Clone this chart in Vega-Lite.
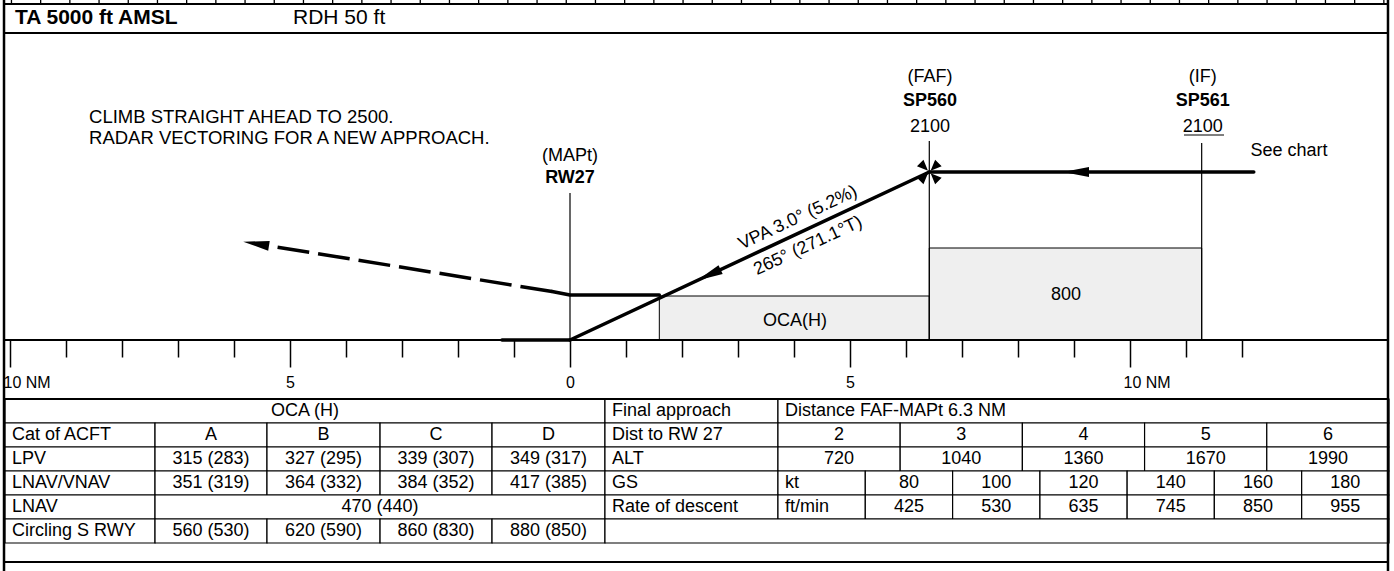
{
  "$schema": "https://vega.github.io/schema/vega-lite/v6.json",
  "width": 1394,
  "height": 571,
  "padding": 0,
  "autosize": {"type": "none"},
  "background": "white",
  "config": {"view": {"stroke": null}, "font": "Liberation Sans", "axis": {"labelColor": "black", "tickColor": "black"}},
  "datasets": {
    "cells": [
      {"id": 1, "r": "r0", "x0": 0, "x1": 43.35, "label": "OCA (H)", "kind": "value"},
      {"id": 2, "r": "r0", "x0": 43.35, "x1": 55.85, "label": "Final approach", "kind": "label"},
      {"id": 3, "r": "r0", "x0": 55.85, "x1": 100, "label": "Distance FAF-MAPt 6.3 NM", "kind": "label"},
      {"id": 4, "r": "r1", "x0": 0, "x1": 10.84, "label": "Cat of ACFT", "kind": "label"},
      {"id": 5, "r": "r1", "x0": 10.84, "x1": 18.93, "label": "A", "kind": "value"},
      {"id": 6, "r": "r1", "x0": 18.93, "x1": 27.1, "label": "B", "kind": "value"},
      {"id": 7, "r": "r1", "x0": 27.1, "x1": 35.19, "label": "C", "kind": "value"},
      {"id": 8, "r": "r1", "x0": 35.19, "x1": 43.35, "label": "D", "kind": "value"},
      {"id": 9, "r": "r1", "x0": 43.35, "x1": 55.85, "label": "Dist to RW 27", "kind": "label"},
      {"id": 10, "r": "r1", "x0": 55.85, "x1": 64.68, "label": "2", "kind": "value"},
      {"id": 11, "r": "r1", "x0": 64.68, "x1": 73.51, "label": "3", "kind": "value"},
      {"id": 12, "r": "r1", "x0": 73.51, "x1": 82.34, "label": "4", "kind": "value"},
      {"id": 13, "r": "r1", "x0": 82.34, "x1": 91.17, "label": "5", "kind": "value"},
      {"id": 14, "r": "r1", "x0": 91.17, "x1": 100, "label": "6", "kind": "value"},
      {"id": 15, "r": "r2", "x0": 0, "x1": 10.84, "label": "LPV", "kind": "label"},
      {"id": 16, "r": "r2", "x0": 10.84, "x1": 18.93, "label": "315 (283)", "kind": "value"},
      {"id": 17, "r": "r2", "x0": 18.93, "x1": 27.1, "label": "327 (295)", "kind": "value"},
      {"id": 18, "r": "r2", "x0": 27.1, "x1": 35.19, "label": "339 (307)", "kind": "value"},
      {"id": 19, "r": "r2", "x0": 35.19, "x1": 43.35, "label": "349 (317)", "kind": "value"},
      {"id": 20, "r": "r2", "x0": 43.35, "x1": 55.85, "label": "ALT", "kind": "label"},
      {"id": 21, "r": "r2", "x0": 55.85, "x1": 64.68, "label": "720", "kind": "value"},
      {"id": 22, "r": "r2", "x0": 64.68, "x1": 73.51, "label": "1040", "kind": "value"},
      {"id": 23, "r": "r2", "x0": 73.51, "x1": 82.34, "label": "1360", "kind": "value"},
      {"id": 24, "r": "r2", "x0": 82.34, "x1": 91.17, "label": "1670", "kind": "value"},
      {"id": 25, "r": "r2", "x0": 91.17, "x1": 100, "label": "1990", "kind": "value"},
      {"id": 26, "r": "r3", "x0": 0, "x1": 10.84, "label": "LNAV/VNAV", "kind": "label"},
      {"id": 27, "r": "r3", "x0": 10.84, "x1": 18.93, "label": "351 (319)", "kind": "value"},
      {"id": 28, "r": "r3", "x0": 18.93, "x1": 27.1, "label": "364 (332)", "kind": "value"},
      {"id": 29, "r": "r3", "x0": 27.1, "x1": 35.19, "label": "384 (352)", "kind": "value"},
      {"id": 30, "r": "r3", "x0": 35.19, "x1": 43.35, "label": "417 (385)", "kind": "value"},
      {"id": 31, "r": "r3", "x0": 43.35, "x1": 55.85, "label": "GS", "kind": "label"},
      {"id": 32, "r": "r3", "x0": 55.85, "x1": 62.16, "label": "kt", "kind": "label"},
      {"id": 33, "r": "r3", "x0": 62.16, "x1": 68.47, "label": "80", "kind": "value"},
      {"id": 34, "r": "r3", "x0": 68.47, "x1": 74.78, "label": "100", "kind": "value"},
      {"id": 35, "r": "r3", "x0": 74.78, "x1": 81.08, "label": "120", "kind": "value"},
      {"id": 36, "r": "r3", "x0": 81.08, "x1": 87.38, "label": "140", "kind": "value"},
      {"id": 37, "r": "r3", "x0": 87.38, "x1": 93.69, "label": "160", "kind": "value"},
      {"id": 38, "r": "r3", "x0": 93.69, "x1": 100, "label": "180", "kind": "value"},
      {"id": 39, "r": "r4", "x0": 0, "x1": 10.84, "label": "LNAV", "kind": "label"},
      {"id": 40, "r": "r4", "x0": 10.84, "x1": 43.35, "label": "470 (440)", "kind": "value"},
      {"id": 41, "r": "r4", "x0": 43.35, "x1": 55.85, "label": "Rate of descent", "kind": "label"},
      {"id": 42, "r": "r4", "x0": 55.85, "x1": 62.16, "label": "ft/min", "kind": "label"},
      {"id": 43, "r": "r4", "x0": 62.16, "x1": 68.47, "label": "425", "kind": "value"},
      {"id": 44, "r": "r4", "x0": 68.47, "x1": 74.78, "label": "530", "kind": "value"},
      {"id": 45, "r": "r4", "x0": 74.78, "x1": 81.08, "label": "635", "kind": "value"},
      {"id": 46, "r": "r4", "x0": 81.08, "x1": 87.38, "label": "745", "kind": "value"},
      {"id": 47, "r": "r4", "x0": 87.38, "x1": 93.69, "label": "850", "kind": "value"},
      {"id": 48, "r": "r4", "x0": 93.69, "x1": 100, "label": "955", "kind": "value"},
      {"id": 49, "r": "r5", "x0": 0, "x1": 10.84, "label": "Circling S RWY", "kind": "label"},
      {"id": 50, "r": "r5", "x0": 10.84, "x1": 18.93, "label": "560 (530)", "kind": "value"},
      {"id": 51, "r": "r5", "x0": 18.93, "x1": 27.1, "label": "620 (590)", "kind": "value"},
      {"id": 52, "r": "r5", "x0": 27.1, "x1": 35.19, "label": "860 (830)", "kind": "value"},
      {"id": 53, "r": "r5", "x0": 35.19, "x1": 43.35, "label": "880 (850)", "kind": "value"},
      {"id": 54, "r": "r5", "x0": 43.35, "x1": 100, "label": "", "kind": "empty"}
    ],
    "fixlines": [
      {"fix": "MAPt", "d": 0, "ft": 0, "ft2": 1837.5},
      {"fix": "FAF", "d": 6.416, "ft": 0, "ft2": 2487.5},
      {"fix": "IF", "d": 11.28, "ft": 0, "ft2": 2462.5}
    ],
    "boxes": [
      {"area": "OCA(H)", "d": 1.595, "d2": 6.416, "ft": 0, "ft2": 550},
      {"area": "800", "d": 6.416, "d2": 11.28, "ft": 0, "ft2": 1150}
    ],
    "paths": [
      {"seg": "runway", "i": 0, "d": -1.214, "ft": 0},
      {"seg": "runway", "i": 1, "d": 0, "ft": 0},
      {"seg": "final", "i": 0, "d": 0, "ft": 0},
      {"seg": "final", "i": 1, "d": 6.416, "ft": 2100},
      {"seg": "intermediate", "i": 0, "d": 6.416, "ft": 2100},
      {"seg": "intermediate", "i": 1, "d": 12.21, "ft": 2100},
      {"seg": "missed", "i": 0, "d": 1.595, "ft": 562.5},
      {"seg": "missed", "i": 1, "d": 0, "ft": 562.5},
      {"seg": "missed", "i": 2, "d": -0.321, "ft": 606}
    ],
    "dashed": [
      {"seg": "missed-climb", "i": 0, "d": -0.321, "ft": 606},
      {"seg": "missed-climb", "i": 1, "d": -5.375, "ft": 1177.5}
    ],
    "arrows": [
      {"seg": "final", "d": 2.479, "ft": 811},
      {"seg": "intermediate", "d": 9.036, "ft": 2100},
      {"seg": "missed-climb", "d": -5.605, "ft": 1203}
    ],
    "fixes": [{"fix": "FAF", "d": 6.416, "ft": 2100}],
    "underline": [{"fix": "IF", "d": 10.964, "d2": 11.679, "ft": 2562.5}],
    "hlines": [
      {"edge": "top", "d": -10.107, "d2": 14.607, "ft": 4200},
      {"edge": "header", "d": -10.107, "d2": 14.607, "ft": 3837.5},
      {"edge": "profile", "d": -10.107, "d2": 14.607, "ft": 0},
      {"edge": "table", "d": -10.107, "d2": 14.607, "ft": -737.5},
      {"edge": "bottom", "d": -10.107, "d2": 14.607, "ft": -2775}
    ],
    "vlines": [
      {"edge": "left", "d": -10.107, "ft": 4250, "ft2": -2887.5},
      {"edge": "right", "d": 14.607, "ft": 4250, "ft2": -2887.5}
    ],
    "strip": [{"edge": "ruler", "d": -10.107, "d2": 14.607, "ft": 4231}],
    "labels": [
      {"text": "TA 5000 ft AMSL", "role": "title", "d": -9.911, "ft": 4025},
      {"text": "RDH 50 ft", "role": "subtitle", "d": -4.946, "ft": 4025},
      {"text": "CLIMB STRAIGHT AHEAD TO 2500.", "role": "instruction", "d": -8.589, "ft": 2787.5},
      {"text": "RADAR VECTORING FOR A NEW APPROACH.", "role": "instruction", "d": -8.589, "ft": 2525},
      {"text": "(MAPt)", "role": "fixtype", "d": 0, "ft": 2300},
      {"text": "RW27", "role": "fixname", "d": 0, "ft": 2025},
      {"text": "(FAF)", "role": "fixtype", "d": 6.43, "ft": 3287.5},
      {"text": "SP560", "role": "fixname", "d": 6.43, "ft": 2987.5},
      {"text": "2100", "role": "altitude", "d": 6.43, "ft": 2662.5},
      {"text": "(IF)", "role": "fixtype", "d": 11.3, "ft": 3287.5},
      {"text": "SP561", "role": "fixname", "d": 11.3, "ft": 2987.5},
      {"text": "2100", "role": "altitude", "d": 11.3, "ft": 2662.5},
      {"text": "See chart", "role": "note", "d": 12.84, "ft": 2362.5},
      {"text": "OCA(H)", "role": "area", "d": 4.018, "ft": 237.5},
      {"text": "800", "role": "area", "d": 8.857, "ft": 562.5},
      {"text": "VPA 3.0° (5.2%)", "role": "path", "d": 4.071, "ft": 1525},
      {"text": "265° (271.1°T)", "role": "path", "d": 4.25, "ft": 1175}
    ]
  },
  "layer": [
    {
      "data": {"name": "cells"},
      "encoding": {
        "x": {"field": "x0", "type": "quantitative", "scale": {"domain": [-0.3613, 100.3613], "nice": false, "zero": false}, "axis": null},
        "y": {"field": "r", "type": "nominal", "scale": {"type": "band", "domain": ["r0", "r1", "r2", "r3", "r4", "r5"], "range": [399, 543], "paddingInner": 0, "paddingOuter": 0}, "axis": null}
      },
      "layer": [
        {"mark": {"type": "rect", "fill": "white", "stroke": "black", "strokeWidth": 1.2}, "encoding": {"x2": {"field": "x1"}}},
        {
          "transform": [{"filter": "datum.kind == 'label'"}],
          "mark": {"type": "text", "align": "left", "baseline": "middle", "dx": 7, "fontSize": 18, "color": "black"},
          "encoding": {"text": {"field": "label"}}
        },
        {
          "transform": [{"filter": "datum.kind == 'value'"}, {"fold": ["x0", "x1"], "as": ["edge", "xe"]}],
          "mark": {"type": "text", "align": "center", "baseline": "middle", "fontSize": 18, "color": "black"},
          "encoding": {
            "x": {"field": "xe", "aggregate": "mean", "type": "quantitative", "scale": {"domain": [-0.3613, 100.3613], "nice": false, "zero": false}, "axis": null},
            "text": {"field": "label"},
            "detail": {"field": "id"}
          }
        }
      ]
    },
    {
      "encoding": {
        "x": {
          "field": "d", "type": "quantitative",
          "scale": {"domain": [-10.17857, 14.71429], "nice": false, "zero": false},
          "axis": {
            "orient": "bottom", "offset": -231, "title": null, "domain": false, "grid": false,
            "values": [-10, -9, -8, -7, -6, -5, -4, -3, -2, -1, 0, 1, 2, 3, 4, 5, 6, 7, 8, 9, 10, 11, 12],
            "tickSize": 27, "tickWidth": 1.5, "tickColor": "black",
            "tickDash": {"condition": {"test": "datum.value % 5 != 0", "value": [17, 40]}, "value": []},
            "labelExpr": "abs(datum.value) == 10 ? '10 NM' : (datum.value % 5 == 0 ? '' + abs(datum.value) : '')",
            "labelFont": "Liberation Sans", "labelFontSize": 16, "labelColor": "black",
            "labelBaseline": "middle", "labelPadding": 15,
            "labelAlign": {"condition": {"test": "abs(datum.value) == 10", "value": "left"}, "value": "center"},
            "labelOffset": {"condition": {"test": "abs(datum.value) == 10", "value": -7}, "value": 0},
            "labelFlush": false, "labelOverlap": false, "labelBound": false
          }
        },
        "y": {"field": "ft", "type": "quantitative", "scale": {"domain": [-2887.5, 4250], "nice": false, "zero": false}, "axis": null}
      },
      "layer": [
        {"data": {"name": "boxes"}, "mark": {"type": "rect", "fill": "#efefef", "stroke": "black", "strokeWidth": 1}, "encoding": {"x2": {"field": "d2"}, "y2": {"field": "ft2"}}},
        {"data": {"name": "fixlines"}, "mark": {"type": "rule", "color": "black", "strokeWidth": 1.2}, "encoding": {"y2": {"field": "ft2"}}},
        {"data": {"name": "paths"}, "mark": {"type": "line", "color": "black", "strokeWidth": 3.5, "strokeCap": "round", "strokeJoin": "round"}, "encoding": {"detail": {"field": "seg"}, "order": {"field": "i"}}},
        {"data": {"name": "dashed"}, "mark": {"type": "line", "color": "black", "strokeWidth": 3.5, "strokeDash": [32, 9]}, "encoding": {"detail": {"field": "seg"}, "order": {"field": "i"}}},
        {"data": {"name": "arrows"}, "transform": [{"filter": "datum.seg == 'final'"}], "mark": {"type": "point", "shape": "M-1,0L1,-0.38L1,0.38Z", "size": 676, "filled": true, "color": "black", "opacity": 1, "angle": -25}},
        {"data": {"name": "arrows"}, "transform": [{"filter": "datum.seg == 'intermediate'"}], "mark": {"type": "point", "shape": "M-1,0L1,-0.38L1,0.38Z", "size": 676, "filled": true, "color": "black", "opacity": 1, "angle": 0}},
        {"data": {"name": "arrows"}, "transform": [{"filter": "datum.seg == 'missed-climb'"}], "mark": {"type": "point", "shape": "M-1,0L1,-0.38L1,0.38Z", "size": 676, "filled": true, "color": "black", "opacity": 1, "angle": 9}},
        {"data": {"name": "fixes"}, "mark": {"type": "point", "shape": "M0.1,-0.1L0.95,-0.45L0.45,-0.95Z M-0.1,-0.1L-0.95,-0.45L-0.45,-0.95Z M0.1,0.1L0.95,0.45L0.45,0.95Z M-0.1,0.1L-0.95,0.45L-0.45,0.95Z", "size": 676, "filled": true, "color": "black", "opacity": 1}},
        {"data": {"name": "underline"}, "mark": {"type": "rule", "color": "black", "strokeWidth": 1.2}, "encoding": {"x2": {"field": "d2"}}},
        {"data": {"name": "hlines"}, "mark": {"type": "rule", "color": "black", "strokeWidth": 2}, "encoding": {"x2": {"field": "d2"}}},
        {"data": {"name": "vlines"}, "mark": {"type": "rule", "color": "black", "strokeWidth": 2.5}, "encoding": {"y2": {"field": "ft2"}}},
        {"data": {"name": "strip"}, "mark": {"type": "rule", "color": "black", "strokeWidth": 3, "strokeDash": [1.3, 27.9], "strokeDashOffset": 22.4}, "encoding": {"x2": {"field": "d2"}}},
        {"data": {"name": "labels"}, "transform": [{"filter": "indexof(['fixtype','altitude','note','area'], datum.role) >= 0"}], "mark": {"type": "text", "align": "center", "baseline": "middle", "fontSize": 18, "color": "black"}, "encoding": {"text": {"field": "text"}}},
        {"data": {"name": "labels"}, "transform": [{"filter": "datum.role == 'fixname'"}], "mark": {"type": "text", "align": "center", "baseline": "middle", "fontSize": 18, "fontWeight": "bold", "color": "black"}, "encoding": {"text": {"field": "text"}}},
        {"data": {"name": "labels"}, "transform": [{"filter": "datum.role == 'instruction'"}], "mark": {"type": "text", "align": "left", "baseline": "middle", "fontSize": 18.5, "color": "black"}, "encoding": {"text": {"field": "text"}}},
        {"data": {"name": "labels"}, "transform": [{"filter": "datum.role == 'path'"}], "mark": {"type": "text", "align": "center", "baseline": "middle", "fontSize": 18, "angle": -25, "color": "black"}, "encoding": {"text": {"field": "text"}}},
        {"data": {"name": "labels"}, "transform": [{"filter": "datum.role == 'title'"}], "mark": {"type": "text", "align": "left", "baseline": "middle", "fontSize": 21, "fontWeight": "bold", "color": "black"}, "encoding": {"text": {"field": "text"}}},
        {"data": {"name": "labels"}, "transform": [{"filter": "datum.role == 'subtitle'"}], "mark": {"type": "text", "align": "left", "baseline": "middle", "fontSize": 21, "color": "black"}, "encoding": {"text": {"field": "text"}}}
      ]
    }
  ],
  "resolve": {"scale": {"x": "independent", "y": "independent"}}
}
